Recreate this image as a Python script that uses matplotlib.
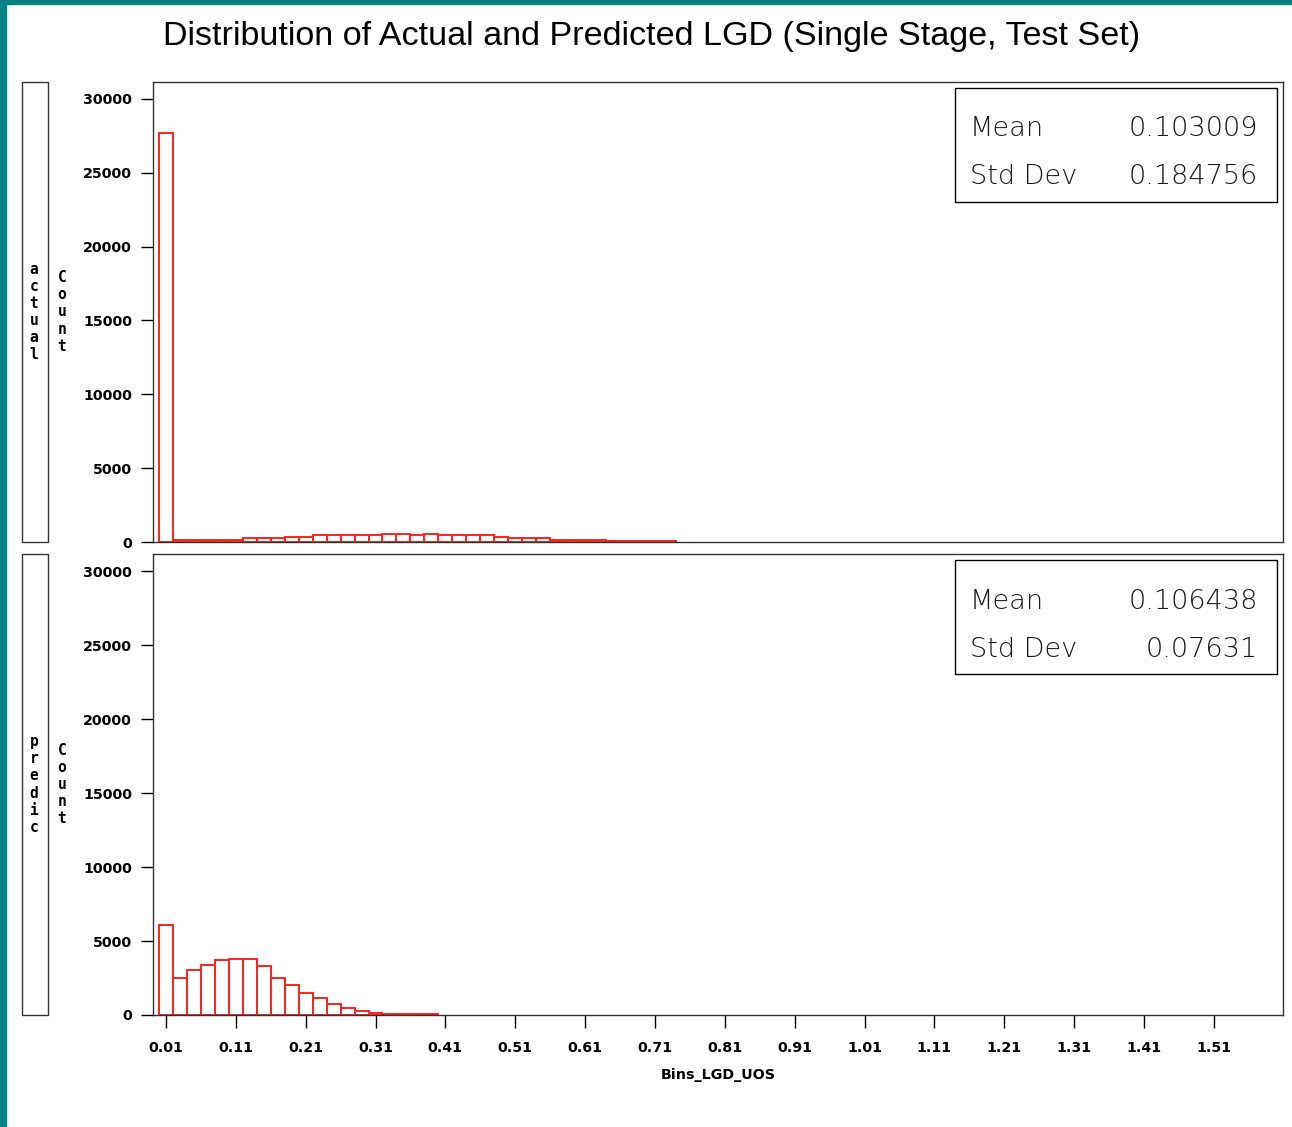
import matplotlib
matplotlib.use("Agg")
import matplotlib.pyplot as plt
from matplotlib.patches import Rectangle
import numpy as np

# ---- data ----
BIN_WIDTH = 0.02
actual_counts = [27700,
                 142, 142, 142, 142, 142,
                 284, 284, 284,
                 355, 355,
                 450, 450, 450, 450, 450,
                 569, 569, 450, 569,
                 450, 450, 450, 450,
                 355,
                 284, 284, 284,
                 166, 166, 166, 166,
                 71, 71, 71, 71, 71]
predicted_counts = [6060, 2520, 3040, 3380, 3720, 3810, 3810, 3290, 2520, 2000,
                    1490, 1130, 720, 450, 290, 135, 45, 45, 45, 45]
panel_names = ["actual", "predic"]
panel_stats = [("0.103009", "0.184756"), ("0.106438", "0.07631")]
xtick_values = [0.01, 0.11, 0.21, 0.31, 0.41, 0.51, 0.61, 0.71, 0.81, 0.91,
                1.01, 1.11, 1.21, 1.31, 1.41, 1.51]
ytick_values = [0, 5000, 10000, 15000, 20000, 25000, 30000]

TEAL = "#078280"
RED = "#FF2020"
TICKFONT = dict(family="DejaVu Sans", fontweight="bold", fontsize=10.3)
STACKFONT = dict(family="DejaVu Sans Mono", fontweight="bold", fontsize=10.5)
STATFONT = dict(family="DejaVu Sans", fontweight="light", fontsize=19.5, color="#1a1a1a")

fig = plt.figure(figsize=(12.92, 11.27), dpi=100, facecolor="white")

# teal window frame on top and left
fig.patches.append(Rectangle((0, 0), 6 / 1292, 1, transform=fig.transFigure,
                             color=TEAL, zorder=0))
fig.patches.append(Rectangle((0, 1 - 4 / 1127), 1, 4 / 1127, transform=fig.transFigure,
                             color=TEAL, zorder=0))

fig.text(0.504, 1 - 37 / 1127,
         "Distribution of Actual and Predicted LGD (Single Stage, Test Set)",
         ha="center", va="center", fontsize=24.6, family="Liberation Sans")

axes_rects = [[153 / 1292, 1 - 542 / 1127, 1130 / 1292, 460 / 1127],
              [153 / 1292, 1 - 1015 / 1127, 1130 / 1292, 461 / 1127]]

for i, (counts, name, stats, rect) in enumerate(
        zip([actual_counts, predicted_counts], panel_names, panel_stats, axes_rects)):
    ax = fig.add_axes(rect)
    lefts = np.arange(len(counts)) * BIN_WIDTH
    ax.bar(lefts, counts, width=BIN_WIDTH, align="edge", facecolor="white",
           edgecolor=RED, linewidth=1.4)
    ax.set_xlim(-0.0085, 1.609)
    ax.set_ylim(0, 31150)
    for sp in ax.spines.values():
        sp.set_color("#333333")
        sp.set_linewidth(1.0)
    ax.set_yticks(ytick_values)
    ax.set_yticklabels([str(v) for v in ytick_values], **TICKFONT)
    ax.tick_params(axis="y", direction="out", length=9, width=1, pad=6)
    ax.set_xticks(xtick_values)
    if i == 1:
        ax.set_xticklabels([f"{v:.2f}" for v in xtick_values], **TICKFONT)
        ax.tick_params(axis="x", direction="out", length=9, width=1, pad=10)
        ax.set_xlabel("Bins_LGD_UOS", labelpad=9, **TICKFONT)
    else:
        ax.tick_params(axis="x", length=0, labelbottom=False)

    # stats inset box
    ax.add_patch(Rectangle((0.7097, 0.739), 0.285, 0.249, transform=ax.transAxes,
                           fill=False, edgecolor="black", linewidth=1.0, zorder=5))
    ax.text(0.723, 0.898, "Mean", transform=ax.transAxes, ha="left", va="center",
            **STATFONT)
    ax.text(0.978, 0.898, stats[0], transform=ax.transAxes, ha="right", va="center",
            **STATFONT)
    ax.text(0.723, 0.7935, "Std Dev", transform=ax.transAxes, ha="left", va="center",
            **STATFONT)
    ax.text(0.978, 0.7935, stats[1], transform=ax.transAxes, ha="right", va="center",
            **STATFONT)

    # side panel label box
    x0, y0, w, h = rect
    fig.patches.append(Rectangle((22 / 1292, y0), 26 / 1292, h, transform=fig.transFigure,
                                 fill=False, edgecolor="#333333", linewidth=1.0))
    yc = y0 + h / 2
    fig.text(34 / 1292, yc, "\n".join(name), ha="center", va="center",
             linespacing=1.17, **STACKFONT)
    fig.text(62 / 1292, yc, "\n".join("Count"), ha="center", va="center",
             linespacing=1.17, **STACKFONT)

fig.savefig("out.png", dpi=100, facecolor="white")
